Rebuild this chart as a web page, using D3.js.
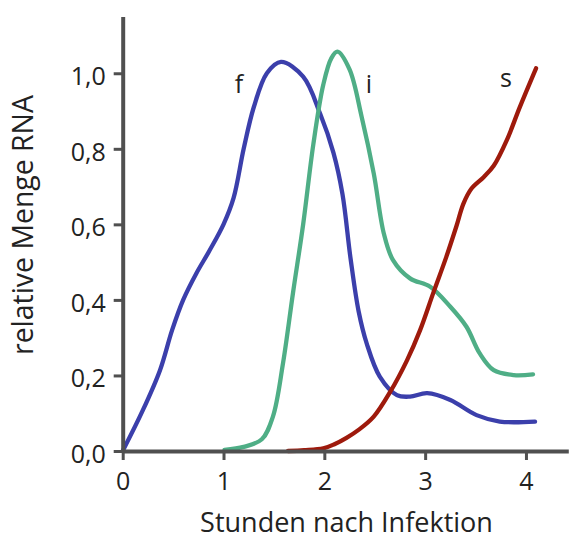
<!DOCTYPE html>
<html>
<head>
<meta charset="utf-8">
<script src="https://cdn.jsdelivr.net/npm/d3@7/dist/d3.min.js"></script>
<style>
  html, body { margin: 0; padding: 0; background: #fff; }
  svg { display: block; }
  text { font-family: "Open Sans", "Noto Sans", sans-serif; fill: #222; }
</style>
</head>
<body>
<svg id="chart" width="569" height="540"></svg>
<script>
// Hours after infection and relative RNA amount for each transcript class
const fHours  = [0, 0.2, 0.37, 0.49, 0.6, 0.73, 0.86, 1.0, 1.1, 1.2, 1.3, 1.43, 1.57, 1.79, 1.957, 2.09, 2.18, 2.26, 2.34, 2.42, 2.55, 2.72, 2.85, 3.02, 3.25, 3.51, 3.74, 4.09];
const fValues = [0, 0.108, 0.214, 0.32, 0.40, 0.47, 0.53, 0.6, 0.67, 0.80, 0.91, 1.0, 1.03, 0.991, 0.894, 0.79, 0.68, 0.51, 0.37, 0.285, 0.197, 0.148, 0.144, 0.153, 0.135, 0.095, 0.078, 0.078];

const iHours  = [1.01, 1.2, 1.38, 1.49, 1.59, 1.69, 1.79, 1.89, 1.99, 2.07, 2.13, 2.25, 2.37, 2.49, 2.59, 2.68, 2.85, 3.05, 3.25, 3.41, 3.54, 3.68, 3.88, 4.07];
const iValues = [0.003, 0.011, 0.031, 0.091, 0.232, 0.42, 0.6, 0.81, 0.97, 1.04, 1.057, 1.01, 0.885, 0.735, 0.576, 0.506, 0.457, 0.435, 0.382, 0.329, 0.259, 0.214, 0.201, 0.203];

const sHours  = [1.64, 1.8, 1.99, 2.1, 2.22, 2.35, 2.49, 2.65, 2.82, 2.95, 3.08, 3.21, 3.31, 3.38, 3.46, 3.58, 3.68, 3.81, 3.94, 4.1];
const sValues = [0.0, 0.002, 0.007, 0.018, 0.035, 0.058, 0.091, 0.155, 0.24, 0.32, 0.418, 0.514, 0.595, 0.655, 0.695, 0.725, 0.755, 0.823, 0.911, 1.013];

const seriesNames  = ["f", "i", "s"];
const xTickValues  = [0, 1, 2, 3, 4];
const xTickLabels  = ["0", "1", "2", "3", "4"];
const yTickValues  = [0, 0.2, 0.4, 0.6, 0.8, 1.0];
const yTickLabels  = ["0,0", "0,2", "0,4", "0,6", "0,8", "1,0"];
const xAxisTitle   = "Stunden nach Infektion";
const yAxisTitle   = "relative Menge RNA";

const series = [
  { name: seriesNames[0], hours: fHours, values: fValues, color: "#3b3fab", lx: 239, ly: 93 },
  { name: seriesNames[1], hours: iHours, values: iValues, color: "#4fae86", lx: 369, ly: 93 },
  { name: seriesNames[2], hours: sHours, values: sValues, color: "#9e1a0c", lx: 506, ly: 86.5 }
];

const svg = d3.select("#chart");

const x = d3.scaleLinear().domain([0, 4.42]).range([122.7, 568.3]);
const y = d3.scaleLinear().domain([0, 1.15]).range([451, 16.6]);

const axisColor = "#505050";
const tickFont = 25;

// Curves
const line = d3.line()
  .x(d => x(d[0]))
  .y(d => y(d[1]))
  .curve(d3.curveCatmullRom.alpha(0.5));

svg.append("g").selectAll("path")
  .data(series)
  .join("path")
  .attr("d", s => line(s.hours.map((h, k) => [h, s.values[k]])))
  .attr("fill", "none")
  .attr("stroke", s => s.color)
  .attr("stroke-width", 4.3)
  .attr("stroke-linecap", "round")
  .attr("stroke-linejoin", "round");

// Y axis
const yAxis = svg.append("g")
  .attr("transform", `translate(${x(0)},0)`)
  .call(d3.axisLeft(y).tickValues(yTickValues).tickSize(9).tickSizeOuter(0).tickPadding(8)
    .tickFormat((d, k) => yTickLabels[k]));
yAxis.select(".domain").attr("stroke", axisColor).attr("stroke-width", 4);
yAxis.selectAll(".tick line").attr("stroke", axisColor).attr("stroke-width", 3);
yAxis.selectAll(".tick text")
  .attr("font-size", tickFont)
  .attr("font-family", "Open Sans, sans-serif")
  .attr("fill", "#222")
  .attr("dy", "0.45em");

// X axis
const xAxis = svg.append("g")
  .attr("transform", `translate(0,${y(0)})`)
  .call(d3.axisBottom(x).tickValues(xTickValues).tickSize(9).tickSizeOuter(0).tickPadding(12)
    .tickFormat((d, k) => xTickLabels[k]));
xAxis.select(".domain").attr("stroke", axisColor).attr("stroke-width", 4);
xAxis.selectAll(".tick line").attr("stroke", axisColor).attr("stroke-width", 3);
xAxis.selectAll(".tick text")
  .attr("font-size", tickFont)
  .attr("font-family", "Open Sans, sans-serif")
  .attr("fill", "#222")
  .attr("dy", "0.71em");

// Series labels
svg.append("g").selectAll("text")
  .data(series)
  .join("text")
  .attr("x", s => s.lx)
  .attr("y", s => s.ly)
  .attr("text-anchor", "middle")
  .attr("font-size", 25)
  .text(s => s.name);

// Axis titles, sized to their drawn span
function fitText(sel, target) {
  const len = sel.node().getComputedTextLength();
  const fs = parseFloat(sel.attr("font-size"));
  sel.attr("font-size", fs * target / len);
}

const xt = svg.append("text")
  .attr("x", 346.5)
  .attr("y", 532)
  .attr("text-anchor", "middle")
  .attr("font-size", 22)
  .text(xAxisTitle);
fitText(xt, 293);

const yt = svg.append("text")
  .attr("transform", "translate(33,225) rotate(-90)")
  .attr("text-anchor", "middle")
  .attr("font-size", 22)
  .text(yAxisTitle);
fitText(yt, 260);
</script>
</body>
</html>
